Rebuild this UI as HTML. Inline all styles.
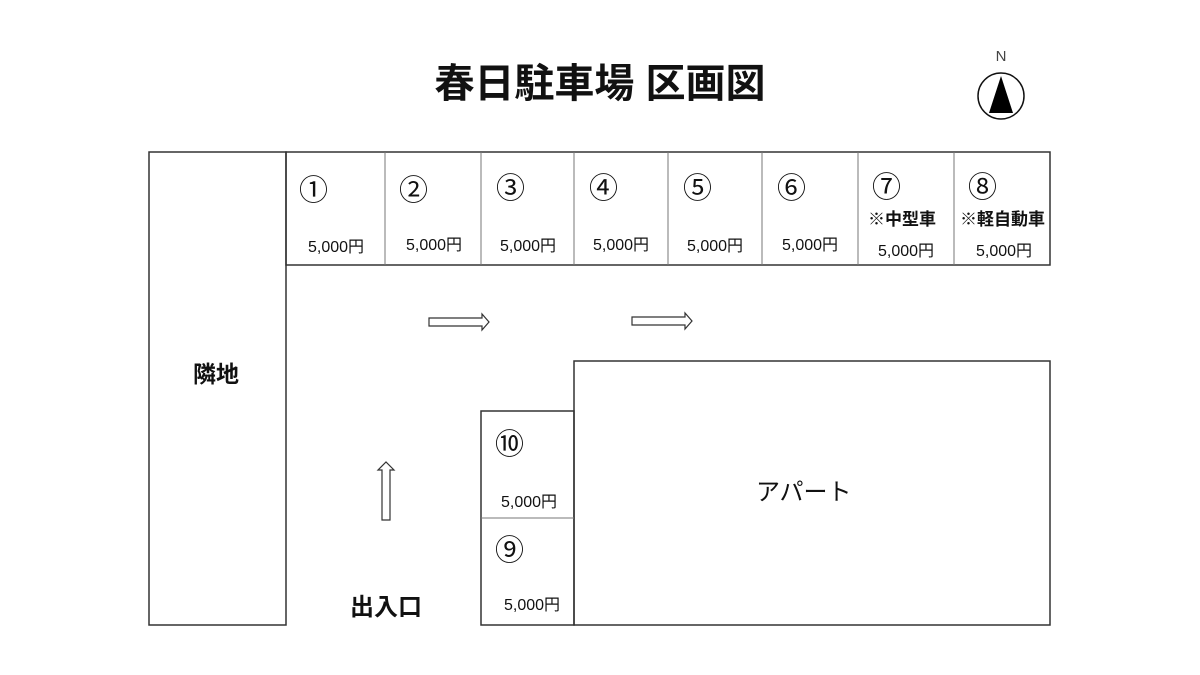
<!DOCTYPE html>
<html><head><meta charset="utf-8"><style>
html,body{margin:0;padding:0;background:#fff}
svg{display:block}
text{font-family:"Liberation Sans","Noto Sans CJK JP",sans-serif;fill:#111}
</style></head><body>
<svg width="1200" height="675" viewBox="0 0 1200 675">
<text x="600" y="97" font-size="40" font-weight="bold" text-anchor="middle">春日駐車場 区画図</text>
<text x="1001" y="61" font-size="15" text-anchor="middle" style="fill:#444">N</text>
<circle cx="1001" cy="96" r="23" fill="none" stroke="#111" stroke-width="1.5"/>
<polygon points="1001,76 989,113 1013,113" fill="#000"/>
<g fill="none" stroke="#333" stroke-width="1.5">
<rect x="149" y="152" width="137" height="473"/>
<rect x="286" y="152" width="764" height="113"/>
<rect x="574" y="361" width="476" height="264"/>
<rect x="481" y="411" width="93" height="214"/>
</g>
<g stroke="#777" stroke-width="1">
<line x1="385" y1="152" x2="385" y2="265"/>
<line x1="481" y1="152" x2="481" y2="265"/>
<line x1="574" y1="152" x2="574" y2="265"/>
<line x1="668" y1="152" x2="668" y2="265"/>
<line x1="762" y1="152" x2="762" y2="265"/>
<line x1="858" y1="152" x2="858" y2="265"/>
<line x1="954" y1="152" x2="954" y2="265"/>
<line x1="481" y1="518" x2="574" y2="518"/>
</g>
<g font-size="29">
<text x="299" y="200">①</text>
<text x="399" y="200">②</text>
<text x="496" y="198">③</text>
<text x="589" y="198">④</text>
<text x="683" y="198">⑤</text>
<text x="777" y="198">⑥</text>
<text x="872" y="197">⑦</text>
<text x="968" y="197">⑧</text>
<text x="495" y="454">⑩</text>
<text x="495" y="560">⑨</text>
</g>
<g font-size="16">
<text x="308" y="252">5,000円</text>
<text x="406" y="250">5,000円</text>
<text x="500" y="251">5,000円</text>
<text x="593" y="250">5,000円</text>
<text x="687" y="251">5,000円</text>
<text x="782" y="250">5,000円</text>
<text x="878" y="256">5,000円</text>
<text x="976" y="256">5,000円</text>
<text x="501" y="507">5,000円</text>
<text x="504" y="610">5,000円</text>
</g>
<g font-size="17" font-weight="bold">
<text x="868" y="225">※中型車</text>
<text x="960" y="225">※軽自動車</text>
</g>
<text x="193" y="382" font-size="23" font-weight="bold">隣地</text>
<text x="350" y="615" font-size="24" font-weight="bold">出入口</text>
<text x="756" y="500" font-size="24">アパート</text>
<g fill="#fff" stroke="#333" stroke-width="1.2">
<polygon points="429,318 482,318 482,314 489,322 482,330 482,326 429,326"/>
<polygon points="632,317 685,317 685,313 692,321 685,329 685,325 632,325"/>
<polygon points="382,520 382,470 378,470 386,462 394,470 390,470 390,520"/>
</g>
</svg>
</body></html>
